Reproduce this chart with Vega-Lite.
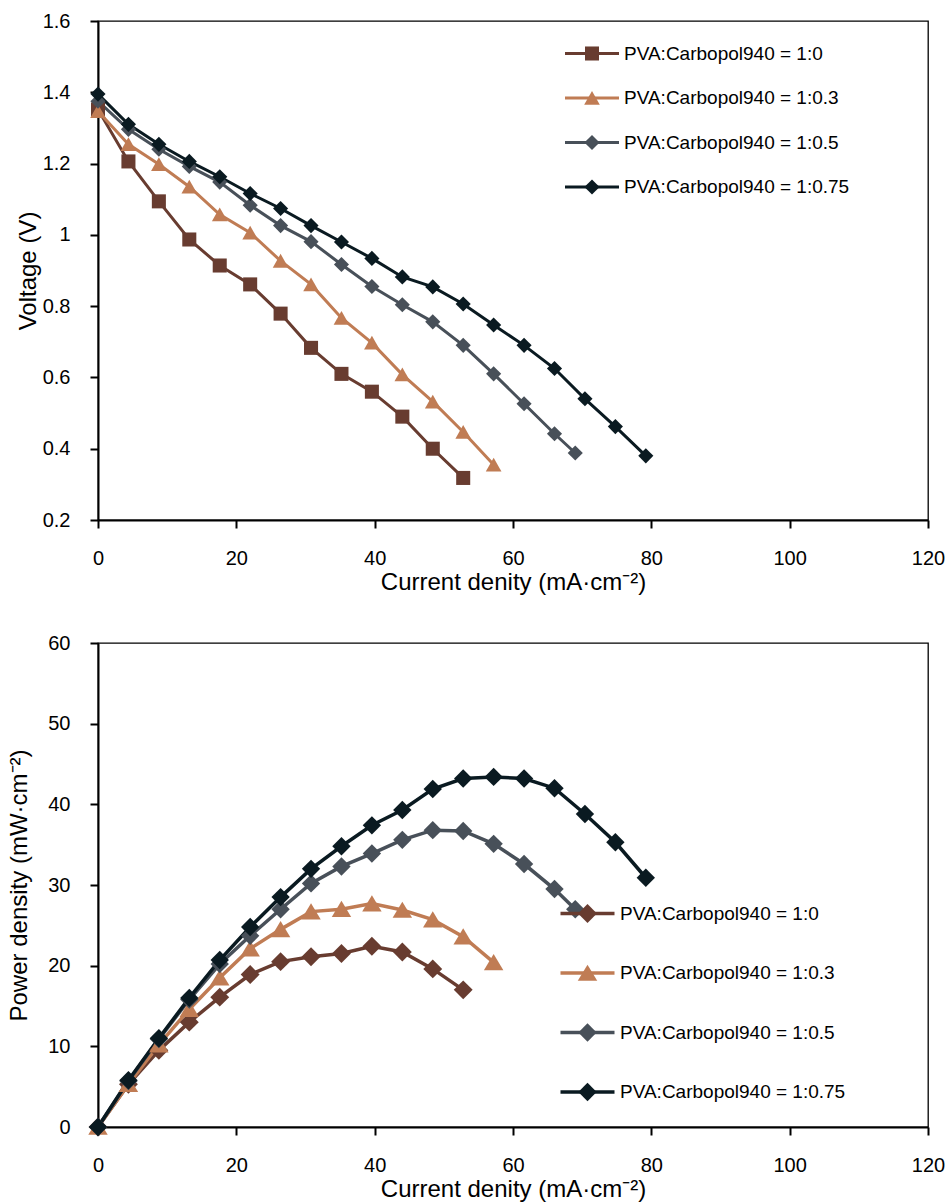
{
  "$schema": "https://vega.github.io/schema/vega-lite/v6.json",
  "background": "white",
  "padding": {"left": 7, "top": 10, "right": 5, "bottom": 0},
  "config": {
    "font": "Liberation Sans",
    "view": {"stroke": "#000", "strokeWidth": 1.3},
    "axis": {"grid": false, "labelFlush": false, "domainColor": "#000", "domainWidth": 2, "tickColor": "#000", "tickWidth": 2, "tickSize": 8, "labelFontSize": 20, "labelColor": "#000", "labelPadding": 20, "titleFontSize": 24, "titleFontWeight": "normal", "titleColor": "#000", "labelFont": "Liberation Sans", "titleFont": "Liberation Sans"},
    "legend": {"title": null, "orient": "none", "padding": 0, "labelFontSize": 19, "labelColor": "#000", "labelFont": "Liberation Sans", "labelLimit": 400}
  },
  "datasets": {
    "d": [
      {"s": "PVA:Carbopol940 = 1:0", "j": 0, "V": 1.352, "P": 0},
      {"s": "PVA:Carbopol940 = 1:0", "j": 4.4, "V": 1.206, "P": 5.3},
      {"s": "PVA:Carbopol940 = 1:0", "j": 8.8, "V": 1.094, "P": 9.5},
      {"s": "PVA:Carbopol940 = 1:0", "j": 13.2, "V": 0.987, "P": 13.0},
      {"s": "PVA:Carbopol940 = 1:0", "j": 17.6, "V": 0.914, "P": 16.1},
      {"s": "PVA:Carbopol940 = 1:0", "j": 22, "V": 0.861, "P": 18.9},
      {"s": "PVA:Carbopol940 = 1:0", "j": 26.4, "V": 0.779, "P": 20.5},
      {"s": "PVA:Carbopol940 = 1:0", "j": 30.8, "V": 0.683, "P": 21.1},
      {"s": "PVA:Carbopol940 = 1:0", "j": 35.2, "V": 0.610, "P": 21.5},
      {"s": "PVA:Carbopol940 = 1:0", "j": 39.6, "V": 0.560, "P": 22.4},
      {"s": "PVA:Carbopol940 = 1:0", "j": 44, "V": 0.490, "P": 21.7},
      {"s": "PVA:Carbopol940 = 1:0", "j": 48.4, "V": 0.400, "P": 19.6},
      {"s": "PVA:Carbopol940 = 1:0", "j": 52.8, "V": 0.318, "P": 17.0},
      {"s": "PVA:Carbopol940 = 1:0.3", "j": 0, "V": 1.347, "P": 0},
      {"s": "PVA:Carbopol940 = 1:0.3", "j": 4.4, "V": 1.254, "P": 5.3},
      {"s": "PVA:Carbopol940 = 1:0.3", "j": 8.8, "V": 1.198, "P": 10.2},
      {"s": "PVA:Carbopol940 = 1:0.3", "j": 13.2, "V": 1.135, "P": 14.6},
      {"s": "PVA:Carbopol940 = 1:0.3", "j": 17.6, "V": 1.057, "P": 18.5},
      {"s": "PVA:Carbopol940 = 1:0.3", "j": 22, "V": 1.006, "P": 22.1},
      {"s": "PVA:Carbopol940 = 1:0.3", "j": 26.4, "V": 0.927, "P": 24.5},
      {"s": "PVA:Carbopol940 = 1:0.3", "j": 30.8, "V": 0.861, "P": 26.7},
      {"s": "PVA:Carbopol940 = 1:0.3", "j": 35.2, "V": 0.767, "P": 27.0},
      {"s": "PVA:Carbopol940 = 1:0.3", "j": 39.6, "V": 0.697, "P": 27.7},
      {"s": "PVA:Carbopol940 = 1:0.3", "j": 44, "V": 0.608, "P": 26.9},
      {"s": "PVA:Carbopol940 = 1:0.3", "j": 48.4, "V": 0.532, "P": 25.7},
      {"s": "PVA:Carbopol940 = 1:0.3", "j": 52.8, "V": 0.447, "P": 23.6},
      {"s": "PVA:Carbopol940 = 1:0.3", "j": 57.2, "V": 0.355, "P": 20.4},
      {"s": "PVA:Carbopol940 = 1:0.5", "j": 0, "V": 1.375, "P": 0},
      {"s": "PVA:Carbopol940 = 1:0.5", "j": 4.4, "V": 1.296, "P": 5.7},
      {"s": "PVA:Carbopol940 = 1:0.5", "j": 8.8, "V": 1.240, "P": 10.9},
      {"s": "PVA:Carbopol940 = 1:0.5", "j": 13.2, "V": 1.192, "P": 15.8},
      {"s": "PVA:Carbopol940 = 1:0.5", "j": 17.6, "V": 1.148, "P": 20.2},
      {"s": "PVA:Carbopol940 = 1:0.5", "j": 22, "V": 1.083, "P": 23.7},
      {"s": "PVA:Carbopol940 = 1:0.5", "j": 26.4, "V": 1.026, "P": 27.0},
      {"s": "PVA:Carbopol940 = 1:0.5", "j": 30.8, "V": 0.981, "P": 30.2},
      {"s": "PVA:Carbopol940 = 1:0.5", "j": 35.2, "V": 0.917, "P": 32.3},
      {"s": "PVA:Carbopol940 = 1:0.5", "j": 39.6, "V": 0.855, "P": 33.9},
      {"s": "PVA:Carbopol940 = 1:0.5", "j": 44, "V": 0.804, "P": 35.6},
      {"s": "PVA:Carbopol940 = 1:0.5", "j": 48.4, "V": 0.756, "P": 36.8},
      {"s": "PVA:Carbopol940 = 1:0.5", "j": 52.8, "V": 0.690, "P": 36.7},
      {"s": "PVA:Carbopol940 = 1:0.5", "j": 57.2, "V": 0.610, "P": 35.1},
      {"s": "PVA:Carbopol940 = 1:0.5", "j": 61.6, "V": 0.526, "P": 32.6},
      {"s": "PVA:Carbopol940 = 1:0.5", "j": 66, "V": 0.442, "P": 29.5},
      {"s": "PVA:Carbopol940 = 1:0.5", "j": 69, "V": 0.388, "P": 27.0},
      {"s": "PVA:Carbopol940 = 1:0.75", "j": 0, "V": 1.395, "P": 0},
      {"s": "PVA:Carbopol940 = 1:0.75", "j": 4.4, "V": 1.310, "P": 5.8},
      {"s": "PVA:Carbopol940 = 1:0.75", "j": 8.8, "V": 1.254, "P": 11.0},
      {"s": "PVA:Carbopol940 = 1:0.75", "j": 13.2, "V": 1.206, "P": 16.0},
      {"s": "PVA:Carbopol940 = 1:0.75", "j": 17.6, "V": 1.163, "P": 20.7},
      {"s": "PVA:Carbopol940 = 1:0.75", "j": 22, "V": 1.116, "P": 24.8},
      {"s": "PVA:Carbopol940 = 1:0.75", "j": 26.4, "V": 1.074, "P": 28.5},
      {"s": "PVA:Carbopol940 = 1:0.75", "j": 30.8, "V": 1.026, "P": 32.0},
      {"s": "PVA:Carbopol940 = 1:0.75", "j": 35.2, "V": 0.980, "P": 34.8},
      {"s": "PVA:Carbopol940 = 1:0.75", "j": 39.6, "V": 0.934, "P": 37.4},
      {"s": "PVA:Carbopol940 = 1:0.75", "j": 44, "V": 0.882, "P": 39.3},
      {"s": "PVA:Carbopol940 = 1:0.75", "j": 48.4, "V": 0.854, "P": 41.9},
      {"s": "PVA:Carbopol940 = 1:0.75", "j": 52.8, "V": 0.806, "P": 43.2},
      {"s": "PVA:Carbopol940 = 1:0.75", "j": 57.2, "V": 0.747, "P": 43.4},
      {"s": "PVA:Carbopol940 = 1:0.75", "j": 61.6, "V": 0.690, "P": 43.2},
      {"s": "PVA:Carbopol940 = 1:0.75", "j": 66, "V": 0.625, "P": 42.0},
      {"s": "PVA:Carbopol940 = 1:0.75", "j": 70.4, "V": 0.540, "P": 38.8},
      {"s": "PVA:Carbopol940 = 1:0.75", "j": 74.8, "V": 0.462, "P": 35.3},
      {"s": "PVA:Carbopol940 = 1:0.75", "j": 79.2, "V": 0.380, "P": 30.9}
    ]
  },
  "bounds": "flush",
  "spacing": 123,
  "resolve": {"scale": {"color": "independent", "shape": "independent", "stroke": "independent"}, "legend": {"color": "independent", "shape": "independent", "stroke": "independent"}},
  "vconcat": [
    {
      "width": 830,
      "height": 499,
      "data": {"name": "d"},
      "layer": [
        {
          "mark": {"type": "line", "strokeWidth": 3},
          "encoding": {
            "x": {"field": "j", "type": "quantitative", "scale": {"domain": [0, 120], "nice": false}, "axis": {"values": [0, 20, 40, 60, 80, 100, 120], "title": "Current denity (mA·cm⁻²)", "titlePadding": 2}},
            "y": {"field": "V", "type": "quantitative", "scale": {"domain": [0.2, 1.6], "zero": false, "nice": false}, "axis": {"values": [0.2, 0.4, 0.6, 0.8, 1, 1.2, 1.4, 1.6], "format": "~g", "title": "Voltage (V)", "titlePadding": 2}},
            "stroke": {"field": "s", "type": "nominal", "scale": {"range": ["#683C30", "#C07C54", "#485059", "#0A1A21"]}, "legend": {"legendX": 465.5, "legendY": 4, "rowPadding": 5.5, "labelOffset": 3.5, "symbolType": "stroke", "symbolSize": 2916, "symbolStrokeWidth": 3}}
          }
        },
        {
          "mark": {"type": "point", "filled": true, "opacity": 1, "size": 2916},
          "encoding": {
            "x": {"field": "j", "type": "quantitative"},
            "y": {"field": "V", "type": "quantitative"},
            "color": {"field": "s", "type": "nominal", "scale": {"domain": ["PVA:Carbopol940 = 1:0", "PVA:Carbopol940 = 1:0.3", "PVA:Carbopol940 = 1:0.5", "PVA:Carbopol940 = 1:0.75"], "range": ["#683C30", "#C07C54", "#485059", "#0A1A21"]}, "legend": {"legendX": 465.5, "legendY": 4, "rowPadding": 5.5, "labelOffset": 3.5, "labelOpacity": 0, "symbolSize": 2916, "symbolStrokeWidth": 3}},
            "shape": {"field": "s", "type": "nominal", "scale": {"domain": ["PVA:Carbopol940 = 1:0", "PVA:Carbopol940 = 1:0.3", "PVA:Carbopol940 = 1:0.5", "PVA:Carbopol940 = 1:0.75"], "range": ["M-0.26,-0.26H0.26V0.26H-0.26Z", "M0,-0.26L0.29,0.25H-0.29Z", "M0,-0.28L0.28,0L0,0.28L-0.28,0Z", "M0,-0.28L0.28,0L0,0.28L-0.28,0Z"]}, "legend": {"legendX": 465.5, "legendY": 4, "rowPadding": 5.5, "labelOffset": 3.5, "labelOpacity": 0, "symbolSize": 2916, "symbolStrokeWidth": 3}}
          }
        }
      ]
    },
    {
      "width": 830,
      "height": 484,
      "data": {"name": "d"},
      "layer": [
        {
          "mark": {"type": "line", "strokeWidth": 3.5},
          "encoding": {
            "x": {"field": "j", "type": "quantitative", "scale": {"domain": [0, 120], "nice": false}, "axis": {"values": [0, 20, 40, 60, 80, 100, 120], "title": "Current denity (mA·cm⁻²)", "titlePadding": 2}},
            "y": {"field": "P", "type": "quantitative", "scale": {"domain": [0, 60], "nice": false}, "axis": {"values": [0, 10, 20, 30, 40, 50, 60], "title": "Power density (mW·cm⁻²)", "titlePadding": 16}},
            "stroke": {"field": "s", "type": "nominal", "scale": {"range": ["#683C30", "#C07C54", "#485059", "#0A1A21"]}, "legend": {"legendX": 460.5, "legendY": 241.5, "rowPadding": 20.5, "labelOffset": 3.5, "symbolType": "stroke", "symbolSize": 2916, "symbolStrokeWidth": 3.5}}
          }
        },
        {
          "mark": {"type": "point", "filled": true, "opacity": 1, "size": 2916},
          "encoding": {
            "x": {"field": "j", "type": "quantitative"},
            "y": {"field": "P", "type": "quantitative"},
            "color": {"field": "s", "type": "nominal", "scale": {"domain": ["PVA:Carbopol940 = 1:0", "PVA:Carbopol940 = 1:0.3", "PVA:Carbopol940 = 1:0.5", "PVA:Carbopol940 = 1:0.75"], "range": ["#683C30", "#C07C54", "#485059", "#0A1A21"]}, "legend": {"legendX": 460.5, "legendY": 241.5, "rowPadding": 20.5, "labelOffset": 3.5, "labelOpacity": 0, "symbolSize": 2916, "symbolStrokeWidth": 3.5}},
            "shape": {"field": "s", "type": "nominal", "scale": {"domain": ["PVA:Carbopol940 = 1:0", "PVA:Carbopol940 = 1:0.3", "PVA:Carbopol940 = 1:0.5", "PVA:Carbopol940 = 1:0.75"], "range": ["M0,-0.35L0.35,0L0,0.35L-0.35,0Z", "M0,-0.31L0.36,0.29H-0.36Z", "M0,-0.34L0.34,0L0,0.34L-0.34,0Z", "M0,-0.34L0.34,0L0,0.34L-0.34,0Z"]}, "legend": {"legendX": 460.5, "legendY": 241.5, "rowPadding": 20.5, "labelOffset": 3.5, "labelOpacity": 0, "symbolSize": 2916, "symbolStrokeWidth": 3.5}}
          }
        }
      ]
    }
  ]
}
